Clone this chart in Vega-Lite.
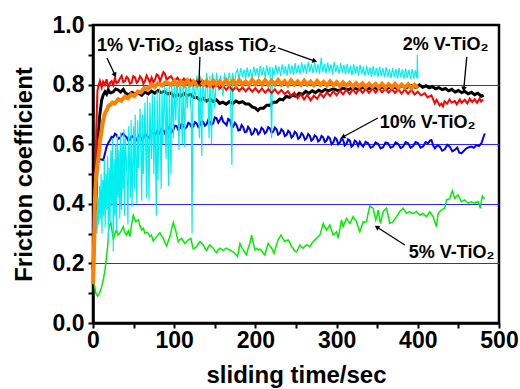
{
"$schema":"https://vega.github.io/schema/vega-lite/v6.json",
"width":406,"height":298,"autosize":"none",
"padding":{"left":93,"top":25,"right":21,"bottom":66},
"background":"white",
"config":{"view":{"stroke":"black","strokeWidth":2.5},"font":"Liberation Sans",
"axis":{"domainColor":"black","domainWidth":2.5,"tickColor":"black","tickWidth":2,"tickSize":5,"labelFont":"Liberation Sans","labelFontWeight":"bold","labelFontSize":23,"labelColor":"black","titleFont":"Liberation Sans","titleFontWeight":"bold","titleFontSize":24,"titleColor":"black","grid":false,"labelOverlap":false,"labelFlush":false}},
"encoding":{
 "x":{"field":"x","type":"quantitative","scale":{"domain":[0,500],"nice":false},"axis":{"values":[0,50,100,150,200,250,300,350,400,450,500],"labelExpr":"datum.value % 100 === 0 ? datum.label : ''","title":"sliding time/sec","labelPadding":1,"titlePadding":11}},
 "y":{"field":"y","type":"quantitative","scale":{"domain":[0,1],"nice":false},"axis":{"values":[0,0.1,0.2,0.3,0.4,0.5,0.6,0.7,0.8,0.9,1],"labelExpr":"round(datum.value*10) % 2 === 0 ? format(datum.value, '.1f') : ''","title":"Friction coefficient","labelPadding":4,"titlePadding":16,"grid":true,"gridColor":"#2a2aff","gridWidth":1,"gridOpacity":{"condition":{"test":"round(datum.value*10) % 2 === 0 && datum.value > 0.05 && datum.value < 0.95","value":1},"value":0}}}
},
"datasets":{
"green":[{"x":0,"y":0.15},{"x":1.5,"y":0.13},{"x":3.5,"y":0.1},{"x":5.7,"y":0.09},{"x":8,"y":0.1},{"x":10.7,"y":0.122},{"x":13,"y":0.15},{"x":14.8,"y":0.178},{"x":16.5,"y":0.22},{"x":18,"y":0.256},{"x":19.7,"y":0.323},{"x":22,"y":0.337},{"x":25,"y":0.279},{"x":27,"y":0.3},{"x":29,"y":0.312},{"x":31,"y":0.295},{"x":33,"y":0.302},{"x":35,"y":0.31},{"x":37.3,"y":0.323},{"x":39,"y":0.305},{"x":41.4,"y":0.295},{"x":43.5,"y":0.31},{"x":45.5,"y":0.29},{"x":47.5,"y":0.33},{"x":49.6,"y":0.362},{"x":52.5,"y":0.34},{"x":55.8,"y":0.346},{"x":58,"y":0.325},{"x":60,"y":0.312},{"x":62,"y":0.318},{"x":64,"y":0.301},{"x":67,"y":0.305},{"x":70.2,"y":0.29},{"x":72,"y":0.295},{"x":74.2,"y":0.275},{"x":76.5,"y":0.283},{"x":78.4,"y":0.29},{"x":80.5,"y":0.298},{"x":82.5,"y":0.303},{"x":84.5,"y":0.292},{"x":86.6,"y":0.284},{"x":88.5,"y":0.27},{"x":90.7,"y":0.258},{"x":92.7,"y":0.275},{"x":94.8,"y":0.29},{"x":96.8,"y":0.315},{"x":98.9,"y":0.337},{"x":101.7,"y":0.312},{"x":103.4,"y":0.29},{"x":105,"y":0.273},{"x":107,"y":0.28},{"x":109,"y":0.284},{"x":111,"y":0.276},{"x":113,"y":0.267},{"x":115,"y":0.272},{"x":117.3,"y":0.279},{"x":120.6,"y":0.284},{"x":122,"y":0.265},{"x":123.5,"y":0.248},{"x":125.5,"y":0.252},{"x":127.6,"y":0.256},{"x":129.5,"y":0.265},{"x":131.7,"y":0.273},{"x":133.8,"y":0.268},{"x":135.8,"y":0.262},{"x":138,"y":0.25},{"x":140,"y":0.243},{"x":142,"y":0.255},{"x":144,"y":0.262},{"x":146,"y":0.256},{"x":148,"y":0.251},{"x":150,"y":0.243},{"x":152,"y":0.236},{"x":154,"y":0.245},{"x":156.3,"y":0.251},{"x":158.4,"y":0.247},{"x":160.4,"y":0.243},{"x":162.5,"y":0.248},{"x":164.5,"y":0.251},{"x":166.5,"y":0.247},{"x":168.6,"y":0.245},{"x":170.5,"y":0.241},{"x":172.7,"y":0.239},{"x":175,"y":0.232},{"x":178,"y":0.223},{"x":179.5,"y":0.245},{"x":181,"y":0.267},{"x":183,"y":0.255},{"x":185,"y":0.245},{"x":187,"y":0.236},{"x":189,"y":0.228},{"x":191,"y":0.25},{"x":193.2,"y":0.267},{"x":195.3,"y":0.295},{"x":197.4,"y":0.268},{"x":199.4,"y":0.245},{"x":201.5,"y":0.25},{"x":203.4,"y":0.245},{"x":205.5,"y":0.248},{"x":207.6,"y":0.243},{"x":209.5,"y":0.235},{"x":211.7,"y":0.228},{"x":213.8,"y":0.25},{"x":215.8,"y":0.267},{"x":218,"y":0.258},{"x":220,"y":0.251},{"x":223,"y":0.234},{"x":225.5,"y":0.258},{"x":228,"y":0.279},{"x":231.4,"y":0.295},{"x":234,"y":0.282},{"x":236.3,"y":0.273},{"x":238.4,"y":0.277},{"x":240.4,"y":0.279},{"x":242.5,"y":0.27},{"x":244.5,"y":0.256},{"x":246.5,"y":0.251},{"x":248,"y":0.243},{"x":250.7,"y":0.239},{"x":252.8,"y":0.25},{"x":254.8,"y":0.262},{"x":256.8,"y":0.256},{"x":258.8,"y":0.251},{"x":261,"y":0.258},{"x":263,"y":0.262},{"x":265,"y":0.26},{"x":267,"y":0.256},{"x":269,"y":0.265},{"x":271,"y":0.273},{"x":273,"y":0.278},{"x":275.3,"y":0.284},{"x":277.3,"y":0.29},{"x":279.4,"y":0.295},{"x":281.5,"y":0.315},{"x":283.5,"y":0.334},{"x":285.5,"y":0.322},{"x":287.6,"y":0.312},{"x":289.6,"y":0.32},{"x":291.7,"y":0.329},{"x":293.8,"y":0.31},{"x":295.8,"y":0.295},{"x":298,"y":0.3},{"x":300,"y":0.306},{"x":302,"y":0.284},{"x":304,"y":0.315},{"x":306,"y":0.346},{"x":308,"y":0.323},{"x":310,"y":0.337},{"x":312.2,"y":0.351},{"x":314.2,"y":0.342},{"x":316.3,"y":0.334},{"x":318.4,"y":0.346},{"x":320.4,"y":0.357},{"x":322.5,"y":0.348},{"x":324.5,"y":0.34},{"x":326.5,"y":0.322},{"x":328.6,"y":0.306},{"x":330.6,"y":0.322},{"x":332.7,"y":0.34},{"x":334.7,"y":0.338},{"x":336.8,"y":0.34},{"x":339,"y":0.37},{"x":341,"y":0.393},{"x":343,"y":0.388},{"x":345,"y":0.385},{"x":346.7,"y":0.365},{"x":348.3,"y":0.346},{"x":350,"y":0.362},{"x":351.2,"y":0.379},{"x":352.6,"y":0.355},{"x":354,"y":0.334},{"x":355.6,"y":0.352},{"x":357.3,"y":0.374},{"x":359.4,"y":0.38},{"x":361.5,"y":0.385},{"x":363.5,"y":0.36},{"x":365.5,"y":0.334},{"x":367.5,"y":0.337},{"x":369.6,"y":0.34},{"x":371.7,"y":0.348},{"x":373.8,"y":0.357},{"x":375.8,"y":0.365},{"x":377.8,"y":0.374},{"x":380,"y":0.38},{"x":382,"y":0.385},{"x":384,"y":0.376},{"x":386,"y":0.368},{"x":388,"y":0.371},{"x":390,"y":0.374},{"x":392,"y":0.37},{"x":394,"y":0.368},{"x":396.2,"y":0.371},{"x":398.4,"y":0.374},{"x":400.4,"y":0.368},{"x":402.5,"y":0.362},{"x":404.5,"y":0.365},{"x":406.5,"y":0.368},{"x":408.6,"y":0.362},{"x":410.7,"y":0.357},{"x":412.7,"y":0.365},{"x":414.8,"y":0.374},{"x":416.8,"y":0.365},{"x":418.8,"y":0.357},{"x":421,"y":0.34},{"x":423,"y":0.323},{"x":425,"y":0.368},{"x":427,"y":0.374},{"x":429,"y":0.379},{"x":431,"y":0.382},{"x":433.2,"y":0.385},{"x":435.3,"y":0.413},{"x":437.4,"y":0.415},{"x":439.4,"y":0.418},{"x":441,"y":0.432},{"x":442.7,"y":0.444},{"x":444,"y":0.43},{"x":445.5,"y":0.418},{"x":447.5,"y":0.425},{"x":449.6,"y":0.43},{"x":451.6,"y":0.418},{"x":453.7,"y":0.407},{"x":455.8,"y":0.41},{"x":457.8,"y":0.413},{"x":460,"y":0.407},{"x":462,"y":0.402},{"x":464,"y":0.405},{"x":466,"y":0.407},{"x":468,"y":0.404},{"x":470,"y":0.402},{"x":472,"y":0.405},{"x":474.2,"y":0.407},{"x":475.6,"y":0.396},{"x":477,"y":0.385},{"x":478.3,"y":0.41},{"x":479.6,"y":0.426},{"x":481,"y":0.42},{"x":482.5,"y":0.418}],
"blue":[{"x":0,"y":0.3},{"x":1.5,"y":0.42},{"x":3,"y":0.52},{"x":4.5,"y":0.547},{"x":8,"y":0.55},{"x":12.7,"y":0.547},{"x":14.8,"y":0.57},{"x":16.8,"y":0.592},{"x":19,"y":0.605},{"x":21,"y":0.614},{"x":23,"y":0.625},{"x":25,"y":0.623},{"x":27,"y":0.635},{"x":29,"y":0.631},{"x":31,"y":0.618},{"x":33.2,"y":0.62},{"x":35.3,"y":0.632},{"x":37.3,"y":0.636},{"x":39.4,"y":0.628},{"x":41.4,"y":0.623},{"x":43.5,"y":0.612},{"x":45.5,"y":0.614},{"x":47.5,"y":0.628},{"x":49.6,"y":0.623},{"x":51.7,"y":0.61},{"x":53.8,"y":0.614},{"x":55.8,"y":0.63},{"x":57.8,"y":0.628},{"x":60,"y":0.615},{"x":62,"y":0.62},{"x":64,"y":0.635},{"x":66,"y":0.631},{"x":68,"y":0.622},{"x":70.2,"y":0.628},{"x":72.2,"y":0.64},{"x":74.2,"y":0.636},{"x":76.3,"y":0.63},{"x":78.4,"y":0.642},{"x":80.5,"y":0.632},{"x":82.5,"y":0.639},{"x":84.5,"y":0.652},{"x":86.6,"y":0.648},{"x":88.7,"y":0.636},{"x":90.7,"y":0.642},{"x":92.8,"y":0.656},{"x":94.8,"y":0.653},{"x":96.8,"y":0.64},{"x":98.9,"y":0.648},{"x":101,"y":0.662},{"x":103,"y":0.661},{"x":105,"y":0.648},{"x":107,"y":0.653},{"x":109,"y":0.668},{"x":111,"y":0.664},{"x":113.2,"y":0.652},{"x":115.3,"y":0.657},{"x":117.4,"y":0.672},{"x":119.4,"y":0.668},{"x":121.5,"y":0.655},{"x":123.5,"y":0.659},{"x":125.5,"y":0.674},{"x":127.6,"y":0.67},{"x":129.6,"y":0.658},{"x":131.7,"y":0.664},{"x":133.8,"y":0.679},{"x":135.8,"y":0.675},{"x":137.9,"y":0.662},{"x":140,"y":0.668},{"x":142,"y":0.682},{"x":144,"y":0.675},{"x":146,"y":0.665},{"x":148,"y":0.67},{"x":150,"y":0.69},{"x":152.2,"y":0.687},{"x":154.3,"y":0.672},{"x":156.3,"y":0.681},{"x":158.4,"y":0.692},{"x":160.4,"y":0.675},{"x":162.5,"y":0.67},{"x":164.5,"y":0.664},{"x":166.5,"y":0.685},{"x":168.6,"y":0.681},{"x":170.6,"y":0.662},{"x":172.7,"y":0.659},{"x":174.8,"y":0.672},{"x":176.9,"y":0.664},{"x":179,"y":0.646},{"x":181,"y":0.648},{"x":183,"y":0.664},{"x":185,"y":0.657},{"x":187,"y":0.64},{"x":189,"y":0.642},{"x":191,"y":0.658},{"x":193.2,"y":0.65},{"x":195.3,"y":0.632},{"x":197.3,"y":0.636},{"x":199.4,"y":0.652},{"x":201.5,"y":0.648},{"x":203.5,"y":0.633},{"x":205.5,"y":0.639},{"x":207.5,"y":0.655},{"x":209.6,"y":0.65},{"x":211.7,"y":0.636},{"x":213.8,"y":0.642},{"x":215.8,"y":0.657},{"x":217.8,"y":0.653},{"x":220,"y":0.638},{"x":222,"y":0.642},{"x":224,"y":0.656},{"x":226,"y":0.65},{"x":228,"y":0.632},{"x":230,"y":0.636},{"x":232,"y":0.65},{"x":234.2,"y":0.644},{"x":236.3,"y":0.627},{"x":238.4,"y":0.631},{"x":240.4,"y":0.645},{"x":242.5,"y":0.639},{"x":244.5,"y":0.622},{"x":246.5,"y":0.628},{"x":248.6,"y":0.642},{"x":250.7,"y":0.636},{"x":252.7,"y":0.618},{"x":254.8,"y":0.623},{"x":256.8,"y":0.637},{"x":258.8,"y":0.631},{"x":261,"y":0.615},{"x":263,"y":0.62},{"x":265,"y":0.634},{"x":267,"y":0.628},{"x":269,"y":0.612},{"x":271,"y":0.617},{"x":273,"y":0.63},{"x":275.3,"y":0.625},{"x":277.3,"y":0.609},{"x":279.4,"y":0.614},{"x":281.4,"y":0.628},{"x":283.5,"y":0.623},{"x":285.5,"y":0.607},{"x":287.6,"y":0.612},{"x":289.6,"y":0.625},{"x":291.7,"y":0.62},{"x":293.8,"y":0.6},{"x":295.8,"y":0.605},{"x":298,"y":0.622},{"x":300,"y":0.617},{"x":302,"y":0.6},{"x":304,"y":0.605},{"x":306,"y":0.619},{"x":308,"y":0.614},{"x":310,"y":0.596},{"x":312.2,"y":0.601},{"x":314.2,"y":0.616},{"x":316.3,"y":0.612},{"x":318.3,"y":0.592},{"x":320.4,"y":0.597},{"x":322.5,"y":0.612},{"x":324.5,"y":0.608},{"x":326.5,"y":0.594},{"x":328.6,"y":0.608},{"x":330.6,"y":0.598},{"x":332.7,"y":0.592},{"x":335.7,"y":0.608},{"x":338.8,"y":0.603},{"x":341.9,"y":0.588},{"x":345,"y":0.592},{"x":348,"y":0.606},{"x":351.2,"y":0.601},{"x":354.2,"y":0.586},{"x":357.3,"y":0.59},{"x":360.3,"y":0.606},{"x":363.4,"y":0.603},{"x":366.5,"y":0.588},{"x":369.6,"y":0.592},{"x":372.7,"y":0.606},{"x":375.8,"y":0.601},{"x":378.9,"y":0.587},{"x":382,"y":0.592},{"x":385,"y":0.607},{"x":388,"y":0.603},{"x":391.1,"y":0.588},{"x":394.2,"y":0.594},{"x":397.3,"y":0.607},{"x":400.4,"y":0.603},{"x":403.4,"y":0.588},{"x":406.5,"y":0.592},{"x":409.6,"y":0.607},{"x":412.7,"y":0.603},{"x":414.8,"y":0.612},{"x":416.8,"y":0.614},{"x":419,"y":0.595},{"x":421,"y":0.586},{"x":424,"y":0.596},{"x":427,"y":0.592},{"x":430,"y":0.578},{"x":433.2,"y":0.583},{"x":436.3,"y":0.598},{"x":439.4,"y":0.592},{"x":442.5,"y":0.576},{"x":445.5,"y":0.581},{"x":448.6,"y":0.589},{"x":451,"y":0.572},{"x":453.7,"y":0.569},{"x":456.8,"y":0.578},{"x":460,"y":0.586},{"x":463,"y":0.59},{"x":466,"y":0.592},{"x":469,"y":0.588},{"x":472.2,"y":0.597},{"x":475.3,"y":0.594},{"x":478.4,"y":0.603},{"x":480.4,"y":0.62},{"x":482.5,"y":0.636}],
"black":[{"x":0,"y":0.18},{"x":2,"y":0.3},{"x":4,"y":0.45},{"x":6,"y":0.6},{"x":8,"y":0.69},{"x":10.7,"y":0.748},{"x":12.5,"y":0.765},{"x":14.8,"y":0.776},{"x":16.8,"y":0.768},{"x":18.8,"y":0.782},{"x":20.5,"y":0.774},{"x":22,"y":0.772},{"x":25,"y":0.776},{"x":28,"y":0.785},{"x":31,"y":0.782},{"x":34,"y":0.775},{"x":37.3,"y":0.784},{"x":40,"y":0.772},{"x":44,"y":0.766},{"x":48,"y":0.774},{"x":52,"y":0.767},{"x":56,"y":0.772},{"x":60,"y":0.764},{"x":64,"y":0.775},{"x":68,"y":0.769},{"x":72,"y":0.778},{"x":76,"y":0.771},{"x":80,"y":0.78},{"x":84,"y":0.773},{"x":88,"y":0.777},{"x":92,"y":0.769},{"x":96,"y":0.771},{"x":100,"y":0.76},{"x":104,"y":0.767},{"x":108,"y":0.761},{"x":112,"y":0.77},{"x":116,"y":0.763},{"x":120,"y":0.767},{"x":124,"y":0.757},{"x":128,"y":0.757},{"x":132,"y":0.747},{"x":136,"y":0.754},{"x":140,"y":0.745},{"x":144,"y":0.751},{"x":148,"y":0.743},{"x":152,"y":0.749},{"x":156,"y":0.737},{"x":160,"y":0.741},{"x":164,"y":0.734},{"x":168,"y":0.743},{"x":172,"y":0.737},{"x":176,"y":0.745},{"x":180,"y":0.739},{"x":184,"y":0.743},{"x":188,"y":0.735},{"x":192,"y":0.735},{"x":196,"y":0.725},{"x":200,"y":0.721},{"x":203,"y":0.713},{"x":206,"y":0.721},{"x":210,"y":0.721},{"x":214,"y":0.731},{"x":218,"y":0.731},{"x":222,"y":0.741},{"x":226,"y":0.741},{"x":230,"y":0.751},{"x":234,"y":0.749},{"x":238,"y":0.761},{"x":242,"y":0.757},{"x":246,"y":0.765},{"x":250,"y":0.761},{"x":254,"y":0.771},{"x":258,"y":0.767},{"x":262,"y":0.777},{"x":266,"y":0.771},{"x":270,"y":0.779},{"x":274,"y":0.773},{"x":278,"y":0.781},{"x":282,"y":0.776},{"x":286,"y":0.784},{"x":290,"y":0.779},{"x":296,"y":0.786},{"x":302,"y":0.78},{"x":308,"y":0.788},{"x":314,"y":0.782},{"x":320,"y":0.79},{"x":326,"y":0.784},{"x":332,"y":0.79},{"x":338,"y":0.785},{"x":344,"y":0.792},{"x":350,"y":0.786},{"x":356,"y":0.792},{"x":362,"y":0.787},{"x":368,"y":0.794},{"x":374,"y":0.788},{"x":380,"y":0.795},{"x":386,"y":0.79},{"x":392,"y":0.797},{"x":398,"y":0.79},{"x":402,"y":0.799},{"x":406,"y":0.791},{"x":410,"y":0.796},{"x":414,"y":0.789},{"x":418,"y":0.793},{"x":422,"y":0.786},{"x":426,"y":0.79},{"x":430,"y":0.783},{"x":434,"y":0.787},{"x":438,"y":0.779},{"x":442,"y":0.784},{"x":446,"y":0.775},{"x":450,"y":0.78},{"x":454,"y":0.773},{"x":458,"y":0.777},{"x":462,"y":0.769},{"x":466,"y":0.774},{"x":470,"y":0.766},{"x":474,"y":0.771},{"x":478,"y":0.761},{"x":481,"y":0.765}],
"cyan":[{"x":0,"y":0.22},{"x":2,"y":0.3},{"x":4,"y":0.38},{"x":5,"y":0.3},{"x":6,"y":0.42},{"x":7,"y":0.33},{"x":8,"y":0.46},{"x":9,"y":0.35},{"x":10,"y":0.5},{"x":11,"y":0.3},{"x":12,"y":0.48},{"x":13,"y":0.36},{"x":14,"y":0.55},{"x":15,"y":0.32},{"x":16,"y":0.5},{"x":17,"y":0.38},{"x":18,"y":0.56},{"x":19,"y":0.28},{"x":20,"y":0.52},{"x":21,"y":0.34},{"x":22,"y":0.58},{"x":23,"y":0.4},{"x":24,"y":0.62},{"x":25,"y":0.24},{"x":26,"y":0.55},{"x":27,"y":0.36},{"x":28,"y":0.6},{"x":29,"y":0.31},{"x":30,"y":0.63},{"x":31,"y":0.42},{"x":32,"y":0.58},{"x":33,"y":0.35},{"x":34,"y":0.64},{"x":35,"y":0.38},{"x":36,"y":0.6},{"x":37,"y":0.45},{"x":38,"y":0.65},{"x":39,"y":0.36},{"x":40,"y":0.62},{"x":42,"y":0.48},{"x":43,"y":0.33},{"x":44,"y":0.66},{"x":46,"y":0.42},{"x":47,"y":0.68},{"x":48,"y":0.39},{"x":50,"y":0.66},{"x":51,"y":0.45},{"x":52,"y":0.7},{"x":54,"y":0.4},{"x":55,"y":0.68},{"x":56,"y":0.52},{"x":58,"y":0.72},{"x":60,"y":0.41},{"x":61,"y":0.7},{"x":62,"y":0.5},{"x":64,"y":0.74},{"x":66,"y":0.42},{"x":67,"y":0.76},{"x":69,"y":0.41},{"x":70,"y":0.74},{"x":72,"y":0.55},{"x":73,"y":0.77},{"x":75,"y":0.5},{"x":76,"y":0.76},{"x":78,"y":0.36},{"x":79,"y":0.78},{"x":80,"y":0.48},{"x":82,"y":0.79},{"x":84,"y":0.45},{"x":85,"y":0.78},{"x":86,"y":0.6},{"x":88,"y":0.8},{"x":90,"y":0.55},{"x":91,"y":0.79},{"x":93,"y":0.46},{"x":94,"y":0.8},{"x":96,"y":0.5},{"x":97,"y":0.81},{"x":99,"y":0.62},{"x":100,"y":0.8},{"x":102,"y":0.68},{"x":103,"y":0.81},{"x":104,"y":0.79},{"x":106,"y":0.58},{"x":107,"y":0.82},{"x":108,"y":0.8},{"x":110,"y":0.6},{"x":111,"y":0.81},{"x":113,"y":0.59},{"x":114,"y":0.82},{"x":116,"y":0.72},{"x":118,"y":0.82},{"x":119,"y":0.8},{"x":121,"y":0.7},{"x":122,"y":0.3},{"x":123,"y":0.82},{"x":124,"y":0.8},{"x":126,"y":0.75},{"x":128,"y":0.83},{"x":129,"y":0.81},{"x":131,"y":0.62},{"x":132,"y":0.83},{"x":134,"y":0.56},{"x":135,"y":0.82},{"x":136,"y":0.8},{"x":138,"y":0.74},{"x":140,"y":0.84},{"x":141,"y":0.81},{"x":143,"y":0.62},{"x":144,"y":0.83},{"x":146,"y":0.6},{"x":147,"y":0.84},{"x":148,"y":0.81},{"x":150,"y":0.72},{"x":152,"y":0.84},{"x":153,"y":0.82},{"x":155,"y":0.78},{"x":157,"y":0.83},{"x":158,"y":0.81},{"x":160,"y":0.76},{"x":162,"y":0.84},{"x":163,"y":0.82},{"x":165,"y":0.8},{"x":166,"y":0.81},{"x":168,"y":0.84},{"x":169,"y":0.82},{"x":171,"y":0.53},{"x":172,"y":0.84},{"x":173,"y":0.82},{"x":175,"y":0.81},{"x":176,"y":0.84},{"x":178,"y":0.85},{"x":180,"y":0.82},{"x":182,"y":0.855},{"x":184,"y":0.825},{"x":186,"y":0.85},{"x":188,"y":0.82},{"x":190,"y":0.858},{"x":192,"y":0.826},{"x":194,"y":0.852},{"x":196,"y":0.82},{"x":198,"y":0.86},{"x":200,"y":0.83},{"x":202,"y":0.855},{"x":204,"y":0.822},{"x":206,"y":0.862},{"x":208,"y":0.83},{"x":210,"y":0.858},{"x":212,"y":0.824},{"x":214,"y":0.865},{"x":216,"y":0.832},{"x":218,"y":0.86},{"x":220,"y":0.62},{"x":221,"y":0.858},{"x":223,"y":0.83},{"x":225,"y":0.866},{"x":227,"y":0.834},{"x":229,"y":0.86},{"x":231,"y":0.828},{"x":233,"y":0.868},{"x":235,"y":0.835},{"x":237,"y":0.862},{"x":239,"y":0.83},{"x":241,"y":0.87},{"x":243,"y":0.836},{"x":245,"y":0.864},{"x":247,"y":0.832},{"x":249,"y":0.872},{"x":251,"y":0.838},{"x":253,"y":0.866},{"x":255,"y":0.834},{"x":257,"y":0.874},{"x":259,"y":0.84},{"x":261,"y":0.868},{"x":263,"y":0.836},{"x":265,"y":0.876},{"x":267,"y":0.842},{"x":269,"y":0.87},{"x":271,"y":0.838},{"x":273,"y":0.875},{"x":275,"y":0.84},{"x":277,"y":0.868},{"x":279,"y":0.836},{"x":281,"y":0.89},{"x":283,"y":0.842},{"x":285,"y":0.87},{"x":287,"y":0.838},{"x":289,"y":0.874},{"x":291,"y":0.84},{"x":293,"y":0.868},{"x":295,"y":0.834},{"x":297,"y":0.876},{"x":299,"y":0.842},{"x":301,"y":0.866},{"x":303,"y":0.836},{"x":305,"y":0.872},{"x":307,"y":0.84},{"x":309,"y":0.866},{"x":311,"y":0.834},{"x":313,"y":0.87},{"x":315,"y":0.838},{"x":317,"y":0.864},{"x":319,"y":0.832},{"x":321,"y":0.868},{"x":323,"y":0.836},{"x":325,"y":0.862},{"x":327,"y":0.83},{"x":329,"y":0.866},{"x":331,"y":0.834},{"x":333,"y":0.86},{"x":335,"y":0.828},{"x":337,"y":0.864},{"x":339,"y":0.832},{"x":341,"y":0.858},{"x":343,"y":0.826},{"x":345,"y":0.862},{"x":347,"y":0.83},{"x":349,"y":0.856},{"x":351,"y":0.826},{"x":353,"y":0.86},{"x":355,"y":0.828},{"x":357,"y":0.855},{"x":359,"y":0.824},{"x":361,"y":0.858},{"x":363,"y":0.826},{"x":365,"y":0.852},{"x":367,"y":0.822},{"x":369,"y":0.856},{"x":371,"y":0.825},{"x":373,"y":0.852},{"x":375,"y":0.82},{"x":377,"y":0.856},{"x":379,"y":0.824},{"x":381,"y":0.85},{"x":383,"y":0.82},{"x":385,"y":0.854},{"x":387,"y":0.822},{"x":389,"y":0.85},{"x":391,"y":0.818},{"x":393,"y":0.852},{"x":395,"y":0.82},{"x":397,"y":0.848},{"x":399,"y":0.822},{"x":399.5,"y":0.9},{"x":400,"y":0.82}],
"red":[{"x":0,"y":0.2},{"x":1,"y":0.3},{"x":2.5,"y":0.42},{"x":4,"y":0.65},{"x":5.5,"y":0.78},{"x":6.5,"y":0.793},{"x":8.5,"y":0.812},{"x":10.7,"y":0.79},{"x":12.5,"y":0.81},{"x":14.8,"y":0.8},{"x":16.8,"y":0.818},{"x":18.8,"y":0.788},{"x":21,"y":0.806},{"x":23,"y":0.812},{"x":25,"y":0.798},{"x":27,"y":0.822},{"x":29,"y":0.805},{"x":31,"y":0.808},{"x":33,"y":0.82},{"x":35.3,"y":0.83},{"x":37.3,"y":0.808},{"x":39.4,"y":0.812},{"x":41.4,"y":0.826},{"x":43.4,"y":0.82},{"x":45.5,"y":0.803},{"x":47.6,"y":0.807},{"x":49.6,"y":0.828},{"x":51.7,"y":0.824},{"x":53.8,"y":0.806},{"x":55.8,"y":0.812},{"x":57.9,"y":0.828},{"x":60,"y":0.82},{"x":62,"y":0.803},{"x":64,"y":0.812},{"x":66,"y":0.83},{"x":68,"y":0.82},{"x":70,"y":0.807},{"x":72.2,"y":0.824},{"x":74.2,"y":0.808},{"x":76.3,"y":0.816},{"x":78.4,"y":0.834},{"x":80.4,"y":0.83},{"x":82.5,"y":0.812},{"x":84.5,"y":0.826},{"x":86.6,"y":0.842},{"x":88.6,"y":0.836},{"x":90.7,"y":0.816},{"x":92.7,"y":0.822},{"x":96,"y":0.828},{"x":100,"y":0.81},{"x":104,"y":0.823},{"x":108,"y":0.807},{"x":112,"y":0.82},{"x":116,"y":0.802},{"x":120,"y":0.816},{"x":124,"y":0.799},{"x":128,"y":0.813},{"x":132,"y":0.797},{"x":136,"y":0.81},{"x":140,"y":0.794},{"x":144,"y":0.806},{"x":148,"y":0.79},{"x":152,"y":0.803},{"x":156,"y":0.787},{"x":160,"y":0.798},{"x":164,"y":0.782},{"x":168,"y":0.795},{"x":172,"y":0.78},{"x":176,"y":0.793},{"x":180,"y":0.779},{"x":184,"y":0.791},{"x":188,"y":0.777},{"x":192,"y":0.79},{"x":196,"y":0.776},{"x":200,"y":0.788},{"x":204,"y":0.774},{"x":208,"y":0.787},{"x":212,"y":0.773},{"x":216,"y":0.785},{"x":220,"y":0.772},{"x":224,"y":0.784},{"x":228,"y":0.77},{"x":232,"y":0.782},{"x":236,"y":0.768},{"x":240,"y":0.778},{"x":244,"y":0.762},{"x":248,"y":0.773},{"x":252,"y":0.754},{"x":256,"y":0.768},{"x":260,"y":0.75},{"x":264,"y":0.766},{"x":268,"y":0.747},{"x":272,"y":0.763},{"x":276,"y":0.752},{"x":280,"y":0.77},{"x":284,"y":0.757},{"x":288,"y":0.774},{"x":292,"y":0.762},{"x":296,"y":0.778},{"x":300,"y":0.764},{"x":304,"y":0.78},{"x":308,"y":0.767},{"x":312,"y":0.783},{"x":316,"y":0.768},{"x":320,"y":0.784},{"x":324,"y":0.77},{"x":328,"y":0.786},{"x":332,"y":0.772},{"x":336,"y":0.786},{"x":340,"y":0.772},{"x":344,"y":0.787},{"x":348,"y":0.773},{"x":352,"y":0.788},{"x":356,"y":0.774},{"x":360,"y":0.787},{"x":364,"y":0.773},{"x":368,"y":0.786},{"x":372,"y":0.772},{"x":376,"y":0.785},{"x":380,"y":0.77},{"x":384,"y":0.784},{"x":388,"y":0.769},{"x":392,"y":0.783},{"x":396,"y":0.767},{"x":400,"y":0.776},{"x":404,"y":0.764},{"x":408.6,"y":0.771},{"x":412,"y":0.757},{"x":416.8,"y":0.764},{"x":421,"y":0.737},{"x":423,"y":0.749},{"x":425,"y":0.74},{"x":427,"y":0.73},{"x":429,"y":0.736},{"x":431,"y":0.727},{"x":433,"y":0.744},{"x":436,"y":0.736},{"x":439,"y":0.75},{"x":442,"y":0.739},{"x":445.5,"y":0.745},{"x":448,"y":0.734},{"x":451.7,"y":0.75},{"x":454,"y":0.739},{"x":457.8,"y":0.749},{"x":461,"y":0.737},{"x":464,"y":0.753},{"x":467,"y":0.741},{"x":470,"y":0.751},{"x":473,"y":0.739},{"x":476,"y":0.753},{"x":478,"y":0.743},{"x":480.4,"y":0.75}],
"orange":[{"x":0,"y":0.13},{"x":1,"y":0.22},{"x":2.5,"y":0.42},{"x":4,"y":0.5},{"x":6.5,"y":0.55},{"x":8.5,"y":0.61},{"x":10.7,"y":0.648},{"x":12.5,"y":0.68},{"x":14.8,"y":0.704},{"x":17,"y":0.715},{"x":19,"y":0.728},{"x":21,"y":0.732},{"x":24,"y":0.74},{"x":27,"y":0.737},{"x":31,"y":0.751},{"x":35,"y":0.746},{"x":39,"y":0.759},{"x":43,"y":0.754},{"x":47,"y":0.767},{"x":51,"y":0.762},{"x":55,"y":0.777},{"x":59,"y":0.774},{"x":63,"y":0.788},{"x":68,"y":0.786},{"x":72,"y":0.8},{"x":76,"y":0.792},{"x":80,"y":0.805},{"x":85,"y":0.797},{"x":90,"y":0.809},{"x":96,"y":0.799},{"x":100,"y":0.812},{"x":104,"y":0.798},{"x":108,"y":0.811},{"x":112,"y":0.797},{"x":116,"y":0.814},{"x":120,"y":0.799},{"x":124,"y":0.81},{"x":128,"y":0.798},{"x":132,"y":0.815},{"x":136,"y":0.8},{"x":140,"y":0.812},{"x":144,"y":0.797},{"x":148,"y":0.814},{"x":152,"y":0.801},{"x":156,"y":0.811},{"x":160,"y":0.799},{"x":164,"y":0.815},{"x":168,"y":0.8},{"x":172,"y":0.813},{"x":176,"y":0.798},{"x":180,"y":0.815},{"x":184,"y":0.8},{"x":188,"y":0.811},{"x":192,"y":0.799},{"x":196,"y":0.816},{"x":200,"y":0.801},{"x":204,"y":0.812},{"x":208,"y":0.8},{"x":212,"y":0.815},{"x":216,"y":0.799},{"x":220,"y":0.813},{"x":224,"y":0.801},{"x":228,"y":0.815},{"x":232,"y":0.8},{"x":236,"y":0.812},{"x":240,"y":0.798},{"x":244,"y":0.814},{"x":248,"y":0.8},{"x":252,"y":0.811},{"x":256,"y":0.799},{"x":260,"y":0.813},{"x":264,"y":0.8},{"x":268,"y":0.81},{"x":272,"y":0.798},{"x":276,"y":0.812},{"x":280,"y":0.799},{"x":284,"y":0.809},{"x":288,"y":0.797},{"x":292,"y":0.811},{"x":296,"y":0.798},{"x":300,"y":0.808},{"x":304,"y":0.795},{"x":308,"y":0.807},{"x":312,"y":0.796},{"x":316,"y":0.806},{"x":320,"y":0.793},{"x":324,"y":0.805},{"x":328,"y":0.794},{"x":332,"y":0.804},{"x":336,"y":0.792},{"x":340,"y":0.803},{"x":344,"y":0.793},{"x":348,"y":0.802},{"x":352,"y":0.791},{"x":356,"y":0.803},{"x":360,"y":0.79},{"x":364,"y":0.801},{"x":368,"y":0.791},{"x":372,"y":0.802},{"x":376,"y":0.789},{"x":380,"y":0.8},{"x":384,"y":0.79},{"x":388,"y":0.801},{"x":392,"y":0.788},{"x":396,"y":0.799},{"x":400,"y":0.789}],
"arrows":[{"x":17.2,"y":0.889,"x2":27.1,"y2":0.832},{"x":131.7,"y":0.893,"x2":130.5,"y2":0.805},{"x":227.7,"y":0.923,"x2":273.2,"y2":0.879},{"x":460.3,"y":0.893,"x2":456.6,"y2":0.785},{"x":350.8,"y":0.688,"x2":307.7,"y2":0.624},{"x":384,"y":0.262,"x2":349.5,"y2":0.322}],
"labels":[{"x":4.9,"y":0.913,"t":"1% V-TiO₂"},{"x":117,"y":0.913,"t":"glass"},{"x":179.7,"y":0.913,"t":"TiO₂"},{"x":381.5,"y":0.916,"t":"2% V-TiO₂"},{"x":353.2,"y":0.653,"t":"10% V-TiO₂"},{"x":388.9,"y":0.217,"t":"5% V-TiO₂"}]
},
"layer":[
{"data":{"name":"green"},"mark":{"type":"line","color":"#00ee00","strokeWidth":1.5}},
{"data":{"name":"blue"},"mark":{"type":"line","color":"#0000ee","strokeWidth":2}},
{"data":{"name":"black"},"mark":{"type":"line","color":"#000000","strokeWidth":3}},
{"data":{"name":"cyan"},"mark":{"type":"line","color":"#00f0f0","strokeWidth":1.2}},
{"data":{"name":"red"},"mark":{"type":"line","color":"#ff0000","strokeWidth":2}},
{"data":{"name":"orange"},"mark":{"type":"line","color":"#ff8000","strokeWidth":4}},
{"data":{"name":"arrows"},"mark":{"type":"rule","color":"black","strokeWidth":1.3},"encoding":{"x2":{"field":"x2"},"y2":{"field":"y2"}}},
{"data":{"name":"arrows"},"transform":[{"calculate":"atan2((datum.x2-datum.x)*0.8125, (datum.y2-datum.y)*298)*180/PI","as":"a"},{"calculate":"datum.x2","as":"x"},{"calculate":"datum.y2","as":"y"}],"mark":{"type":"point","shape":"triangle-up","filled":true,"color":"black","size":30,"opacity":1},"encoding":{"angle":{"field":"a","type":"quantitative","scale":null}}},
{"data":{"name":"labels"},"mark":{"type":"text","align":"left","baseline":"alphabetic","font":"Liberation Sans","fontWeight":"bold","fontSize":18,"color":"black"},"encoding":{"text":{"field":"t"}}}
]
}
